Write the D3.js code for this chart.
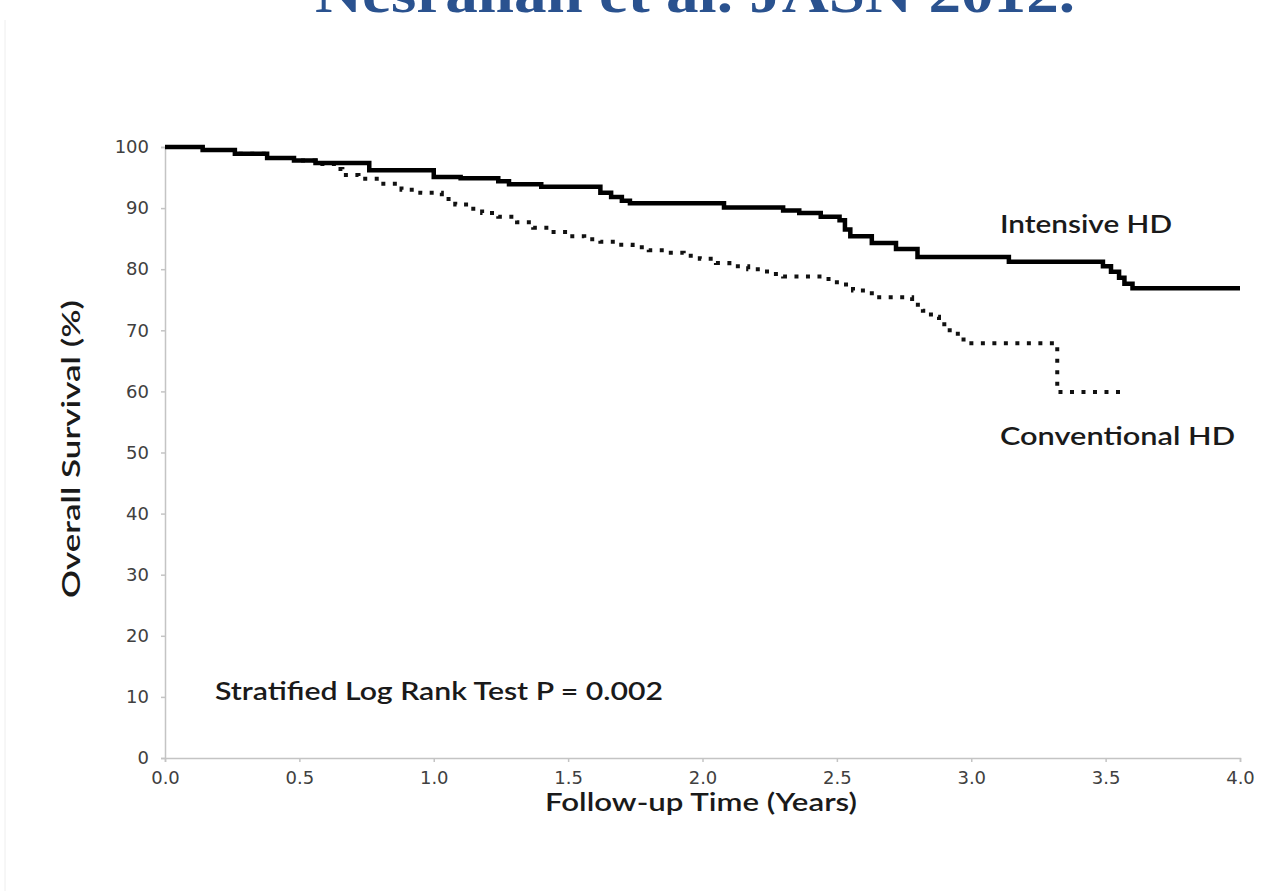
<!DOCTYPE html>
<html>
<head>
<meta charset="utf-8">
<script src="https://cdn.jsdelivr.net/npm/d3@7/dist/d3.min.js"></script>
<style>
  html, body { margin: 0; padding: 0; background: #fff; }
  svg { display: block; }
</style>
</head>
<body>
<svg id="chart" width="1267" height="891"></svg>
<script>
'use strict';
/*
 *
 *	Data
 *
 */
// Intensive HD : step times (years) and survival (%)
var intensiveTime = [0, 0.14, 0.26, 0.38, 0.48, 0.56, 0.76, 1.00, 1.10, 1.24, 1.28, 1.40,
	1.62, 1.66, 1.70, 1.73, 2.08, 2.30, 2.36, 2.44, 2.51, 2.53, 2.55, 2.63, 2.72, 2.80,
	3.14, 3.49, 3.52, 3.55, 3.57, 3.60, 4.00];
var intensiveSurv = [100, 99.5, 98.9, 98.2, 97.8, 97.4, 96.2, 95.1, 94.9, 94.4, 93.9, 93.5,
	92.5, 91.8, 91.2, 90.8, 90.1, 89.6, 89.2, 88.6, 88.0, 86.5, 85.4, 84.3, 83.3, 82.0,
	81.2, 80.5, 79.6, 78.6, 77.6, 76.9, 76.9];

// Conventional HD
var conventionalTime = [0, 0.14, 0.26, 0.38, 0.48, 0.56, 0.64, 0.66, 0.72, 0.80, 0.88, 0.95,
	1.03, 1.08, 1.13, 1.18, 1.24, 1.31, 1.37, 1.43, 1.50, 1.56, 1.62, 1.68, 1.74, 1.80,
	1.87, 1.93, 1.99, 2.05, 2.10, 2.17, 2.24, 2.30, 2.45, 2.50, 2.56, 2.63, 2.78, 2.82,
	2.85, 2.88, 2.91, 2.95, 2.98, 3.32, 3.58];
var conventionalSurv = [100, 99.5, 98.9, 98.2, 97.8, 97.2, 96.4, 95.4, 94.8, 94.0, 93.0, 92.5,
	91.5, 90.6, 89.9, 89.2, 88.6, 87.7, 86.8, 86.1, 85.4, 84.9, 84.5, 84.0, 83.6, 83.1,
	82.7, 82.2, 81.7, 81.0, 80.5, 80.0, 79.2, 78.8, 78.4, 77.5, 76.5, 75.4, 74.2, 73.2,
	72.2, 71.0, 70.0, 68.5, 67.9, 59.9, 59.9];

var xTicks = [0, 0.5, 1.0, 1.5, 2.0, 2.5, 3.0, 3.5, 4.0];
var yTicks = [0, 10, 20, 30, 40, 50, 60, 70, 80, 90, 100];

var titleText = "Nesrallah et al. JASN 2012.";
var pValueText = "Stratified Log Rank Test P = 0.002";

/*
 *
 *	Setup
 *
 */
var svg = d3.select("#chart");
var plotLeft = 165, plotRight = 1240, plotTop = 147, plotBottom = 758;

var x = d3.scaleLinear().domain([0, 4]).range([plotLeft, plotRight]);
var y = d3.scaleLinear().domain([0, 100]).range([plotBottom, plotTop]);

function zipSeries(t, s){
	return t.map(function(d, i){ return [d, s[i]]; });
}

// title, cropped by the top edge as in the original slide
svg.append("text")
	.text(titleText)
	.attr("x", 695)
	.attr("y", 12)
	.attr("text-anchor", "middle")
	.attr("font-family", "'Liberation Serif', 'DejaVu Serif', serif")
	.attr("font-weight", "bold")
	.attr("font-size", 56)
	.attr("textLength", 760)
	.attr("lengthAdjust", "spacingAndGlyphs")
	.attr("fill", "#2a528f");

// faint frame line at the left edge
svg.append("line")
	.attr("x1", 5).attr("x2", 5).attr("y1", 20).attr("y2", 891)
	.attr("stroke", "#eee").attr("stroke-width", 1);

/*
 *
 *	Axes
 *
 */
var axisColor = "#c4c4c4";
var tickFont = "'DejaVu Sans', sans-serif";

var yAxis = svg.append("g")
	.attr("transform", "translate(" + plotLeft + ",0)")
	.call(d3.axisLeft(y).tickValues(yTicks).tickFormat(d3.format("d")).tickSize(4).tickPadding(12));
var xAxis = svg.append("g")
	.attr("transform", "translate(0," + plotBottom + ")")
	.call(d3.axisBottom(x).tickValues(xTicks).tickFormat(d3.format(".1f")).tickSize(4).tickPadding(9));

[xAxis, yAxis].forEach(function(ax){
	ax.select(".domain").attr("stroke", axisColor).attr("stroke-width", 1.5);
	ax.selectAll(".tick line").attr("stroke", axisColor).attr("stroke-width", 1.5);
	ax.selectAll(".tick text")
		.attr("font-family", tickFont)
		.attr("font-size", 18)
		.attr("fill", "#404040");
});

/*
 *
 *	Survival curves
 *
 */
var line = d3.line()
	.x(function(d){ return x(d[0]); })
	.y(function(d){ return y(d[1]); })
	.curve(d3.curveStepAfter);

svg.append("path")
	.datum(zipSeries(conventionalTime, conventionalSurv))
	.attr("d", line)
	.attr("fill", "none")
	.attr("stroke", "#111")
	.attr("stroke-width", 4)
	.attr("stroke-dasharray", "4,7.5");

svg.append("path")
	.datum(zipSeries(intensiveTime, intensiveSurv))
	.attr("d", line)
	.attr("fill", "none")
	.attr("stroke", "#000")
	.attr("stroke-width", 4.5);

/*
 *
 *	Labels
 *
 */
var labelFont = "Lato, 'Open Sans', sans-serif";

function addLabel(txt, lx, ly, width){
	return svg.append("text")
		.text(txt)
		.attr("x", lx)
		.attr("y", ly)
		.attr("font-family", labelFont)
		.attr("font-size", 25)
		.attr("font-weight", 600)
		.attr("fill", "#1a1a1a")
		.attr("textLength", width)
		.attr("lengthAdjust", "spacingAndGlyphs");
}

addLabel("Intensive HD", 1000, 233, 172);
addLabel("Conventional HD", 1000, 445, 235);
addLabel(pValueText, 215, 700, 448);
addLabel("Follow-up Time (Years)", 545, 811, 312);

addLabel("Overall Survival (%)", 0, 0, 298)
	.attr("text-anchor", "middle")
	.attr("transform", "translate(80,449) rotate(-90)");
</script>
</body>
</html>
